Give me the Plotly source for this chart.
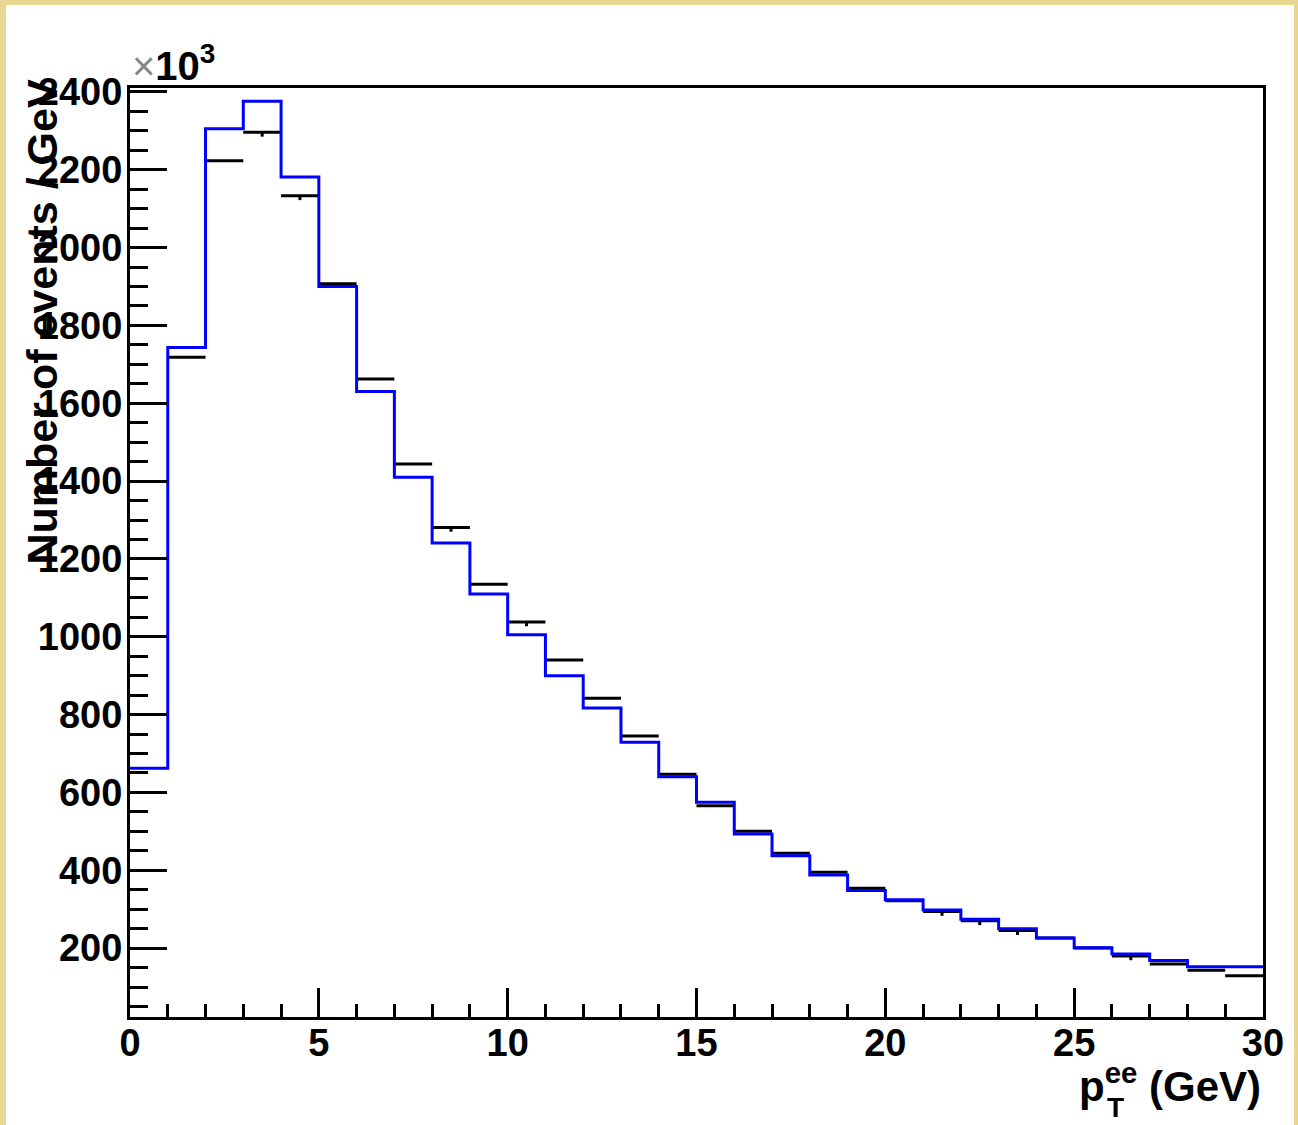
import plotly.graph_objects as go

# ---------------- data (values in units of 10^3 events / GeV) ----------------
bin_edges = list(range(0, 31))
mc_values = [662, 1743, 2305, 2376, 2181, 1900, 1630, 1410, 1241, 1110,
             1005, 900, 817, 729, 640, 575, 493, 437, 388, 348,
             324, 298, 274, 250, 226, 201, 185, 168, 152, 152]
data_values = [None, 1718, 2223, 2296, 2133, 1907, 1662, 1444, 1281, 1135,
               1038, 940, 842, 745, 647, 566, 500, 444, 395, 354,
               322, 294, 270, 245, 226, 200, 180, 159, 143, 129]
data_err_low = [0, 0, 0, 11, 11, 0, 0, 0, 11, 0,
                11, 0, 0, 0, 0, 0, 0, 0, 0, 0,
                0, 11, 11, 11, 0, 0, 11, 0, 0, 0]
y_tick_values = [200, 400, 600, 800, 1000, 1200, 1400, 1600, 1800, 2000, 2200, 2400]
x_tick_values = [0, 5, 10, 15, 20, 25, 30]

bin_centers = [(bin_edges[i] + bin_edges[i + 1]) / 2 for i in range(len(bin_edges) - 1)]
bin_half = [(bin_edges[i + 1] - bin_edges[i]) / 2 for i in range(len(bin_edges) - 1)]

W, H = 1298, 1125
L, R, T, B = 130, 35, 88, 108
PW, PH = W - L - R, H - T - B


def px(xp):
    return (xp - L) / PW


def py(yp):
    return (H - B - yp) / PH


FONT = "Liberation Sans"

fig = go.Figure()

# data points (horizontal bin-width bars with error bars)
fig.add_trace(go.Scatter(
    x=bin_centers, y=data_values, mode="markers",
    marker=dict(size=1, color="rgba(0,0,0,0)"),
    error_x=dict(type="data", array=bin_half, symmetric=True, width=0,
                 thickness=3, color="black"),
    error_y=dict(type="data", array=[0] * len(data_err_low), arrayminus=data_err_low,
                 symmetric=False, width=0, thickness=3, color="black"),
    showlegend=False, hoverinfo="skip",
))

# MC histogram
fig.add_trace(go.Scatter(
    x=bin_edges, y=mc_values + [mc_values[-1]], mode="lines",
    line=dict(shape="hv", color="#0000FF", width=3),
    showlegend=False, hoverinfo="skip",
))

axis_common = dict(
    showgrid=False, zeroline=False, showline=True, linecolor="black", linewidth=3,
    mirror=True, ticks="inside", tickcolor="black", tickwidth=3,
    tickfont=dict(family=FONT, size=38, color="black", weight="bold"),
)

fig.update_xaxes(
    range=[0, 30], tickvals=x_tick_values, ticklen=29,
    minor=dict(dtick=1, tick0=0, ticks="inside", ticklen=13, tickwidth=3, tickcolor="black"),
    ticklabelstandoff=-10,
    **axis_common,
)
fig.update_yaxes(
    range=[23, 2410], tickvals=y_tick_values, ticklen=37,
    minor=dict(dtick=50, tick0=0, ticks="inside", ticklen=18, tickwidth=3, tickcolor="black"),
    ticklabelstandoff=-3,
    **axis_common,
)

annotations = [
    dict(text="Number of events / GeV", textangle=-90, x=px(42), y=py(78),
         xanchor="center", yanchor="top",
         font=dict(family=FONT, size=43, color="black", weight="bold")),
    dict(text='<span style="color:#888888;font-weight:normal">×</span>10<sup>3</sup>',
         x=px(130), y=py(63), xanchor="left", yanchor="middle",
         font=dict(family=FONT, size=40, color="black", weight="bold")),
    dict(text="p<sup>ee</sup> (GeV)", x=px(1263), y=py(1083),
         xanchor="right", yanchor="middle",
         font=dict(family=FONT, size=42, color="black", weight="bold")),
    dict(text="T", x=px(1115), y=py(1107),
         xanchor="center", yanchor="middle",
         font=dict(family=FONT, size=28, color="black", weight="bold")),
]
for a in annotations:
    a.update(xref="paper", yref="paper", showarrow=False)

# white canvas over cream border
shapes = [dict(type="rect", xref="paper", yref="paper",
               x0=px(6), x1=px(1294), y0=py(1130), y1=py(5),
               fillcolor="white", line=dict(width=0), layer="below")]

fig.update_layout(
    width=W, height=H,
    margin=dict(l=L, r=R, t=T, b=B),
    paper_bgcolor="#E9D690", plot_bgcolor="rgba(0,0,0,0)",
    annotations=annotations, shapes=shapes,
    font=dict(family=FONT),
)

fig.write_html("out.html")
